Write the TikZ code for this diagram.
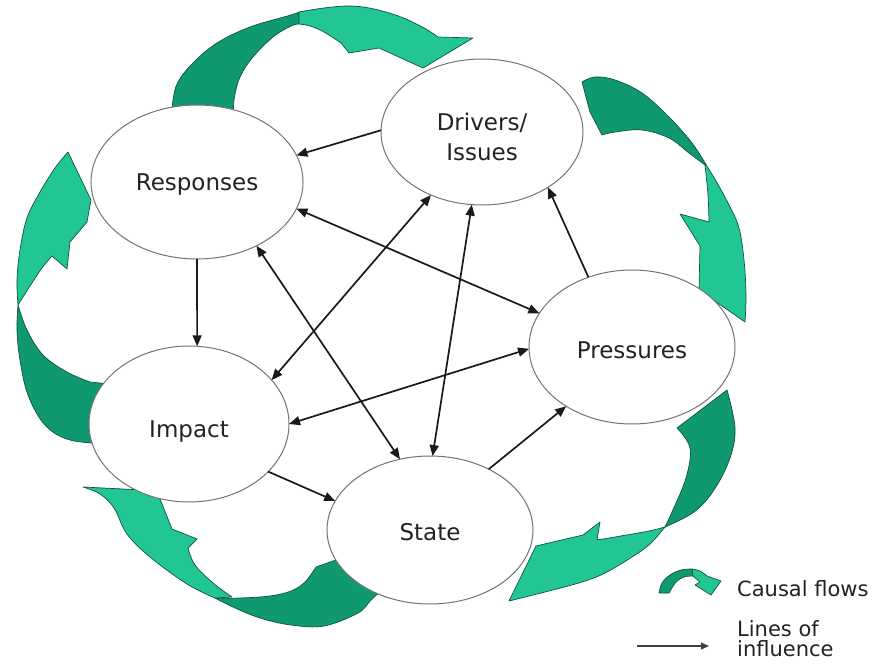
\documentclass[tikz,border=0pt]{standalone}
\usepackage{fontspec}
\setmainfont{DejaVu Sans}
\usetikzlibrary{shapes.geometric,arrows.meta}
\definecolor{flowdark}{RGB}{16,152,112}
\definecolor{flowlight}{RGB}{34,198,148}
\definecolor{flowedge}{RGB}{14,84,62}
\definecolor{labeltext}{RGB}{34,34,34}

\begin{document}
\begin{tikzpicture}[x=1pt,y=-1pt,
  flowback/.style={fill=flowdark,draw=flowedge,line width=0.7pt,line join=round},
  flowfront/.style={fill=flowlight,draw=flowedge,line width=0.7pt,line join=round},
  stage/.style={ellipse,draw=black!55,line width=1pt,fill=white,inner sep=0pt,outer sep=0pt,
     text=labeltext,font=\fontsize{23}{30}\selectfont,align=center},
  oneline/.style={text depth=0pt,text height=#1},
  infl/.style={line width=1.7pt,draw=black!90,>={Triangle[length=11pt,width=9pt]}},
  legtext/.style={text=labeltext,font=\fontsize{21}{20}\selectfont,align=left,inner sep=0pt}
]
\useasboundingbox (0,0) rectangle (873,666);

% ---- causal flows (drawn first, the stages sit on top of them) ----
% Responses -> Drivers
\path[flowback] plot[smooth,tension=0.6] coordinates {(234,118) (234,100) (240,77) (253,57) (273,37) (291,26) (299,24)}
  -- (299,12) -- plot[smooth,tension=0.6] coordinates {(299,12) (291,15) (250,27) (217,43) (193,63) (178,82) (173,100) (172,118)} -- cycle;
\path[flowfront] plot[smooth,tension=0.6] coordinates {(299,12) (324,8) (350,6) (374,9) (401,17) (424,28) (438,37)}
  -- (473,38) -- (423,68) -- (379,48) -- (349,53)
  -- plot[smooth,tension=0.6] coordinates {(341,43) (324,32) (310,26) (299,24)} -- cycle;

% Drivers -> Pressures
\path[flowback] plot[smooth,tension=0.6] coordinates {(602,135) (615,132) (642,130) (669,138) (689,153) (705,165)}
  -- plot[smooth,tension=0.6] coordinates {(705,163) (692,143) (669,117) (642,93) (615,80) (595,77) (582,82)}
  -- (590,112) -- cycle;
\path[flowfront] plot[smooth,tension=0.6] coordinates {(705,163) (716,181) (729,205) (739,228) (744,260) (746,295) (745,322)}
  -- (699,290) -- (700,246) -- (680,214) -- (709,222)
  -- plot[smooth,tension=0.6] coordinates {(709,222) (708,195) (705,165)} -- cycle;

% Pressures -> State
\path[flowback] (677,428) -- plot[smooth,tension=0.6] coordinates {(727,390) (735,428) (730,458) (714,490) (694,512) (665,527)}
  -- plot[smooth,tension=0.6] coordinates {(665,527) (672,512) (686,478) (690,448) (677,428)} -- cycle;
\path[flowfront] plot[smooth,tension=0.6] coordinates {(665,527) (649,531) (615,537) (597,540)}
  -- (600,522) -- (583,535) -- (536,546) -- (509,601)
  -- plot[smooth,tension=0.6] coordinates {(509,601) (545,592) (582,582) (605,573) (632,557) (650,544) (665,527)} -- cycle;

% State -> Impact
\path[flowback] (316,567) -- (350,555) -- (382,590)
  -- plot[smooth,tension=0.6] coordinates {(382,590) (371,600) (358,613) (324,626) (291,625) (260,618) (233,607) (215,598)}
  -- plot[smooth,tension=0.6] coordinates {(215,598) (240,598) (270,596) (291,591) (305,582) (316,567)} -- cycle;
\path[flowfront] plot[smooth,tension=0.6] coordinates {(215,598) (187,584) (150,557) (127,534) (114,508) (100,494) (83,487)}
  -- (143,490) -- (160,499) -- (172,529) -- (197,539)
  -- plot[smooth,tension=0.6] coordinates {(188,548) (195,565) (213,583) (232,597)} -- cycle;

% Impact -> Responses
\path[flowback] plot[smooth,tension=0.6] coordinates {(18,305) (17,330) (20,360) (28,395) (45,425) (70,440) (110,444)}
  -- (110,384) -- plot[smooth,tension=0.6] coordinates {(90,382) (67,372) (43,355) (27,330) (18,305)} -- cycle;
\path[flowfront] plot[smooth,tension=0.6] coordinates {(18,305) (30,286) (42,268) (52,256)}
  -- (67,269) -- (70,242) -- (87,222) -- (91,200) -- (68,152)
  -- plot[smooth,tension=0.6] coordinates {(68,152) (55,168) (40,192) (27,218) (20,250) (17,280) (18,305)} -- cycle;

% ---- stages ----
\node[stage,text height=56.8pt,text depth=0pt,minimum width=202pt,minimum height=146pt] (D) at (482,132) {Drivers/\\Issues};
\node[stage,oneline=16.8pt,minimum width=212pt,minimum height=154pt] (R) at (197,182) {Responses};
\node[stage,oneline=22.8pt,minimum width=206pt,minimum height=154pt] (P) at (632,347) {Pressures};
\node[stage,oneline=26.8pt,minimum width=200pt,minimum height=156pt] (I) at (189,424) {Impact};
\node[stage,oneline=20.8pt,minimum width=206pt,minimum height=148pt] (S) at (430,530) {State};

% ---- lines of influence ----
\draw[infl,->]  (D.179) -- (R.15);
\draw[infl,->]  (R.270) -- (I.84);
\draw[infl,<->] (R.-15) -- (P.160);
\draw[infl,<->] (R.-47) -- (S.113);
\draw[infl,<->] (I.28) -- (D.231);
\draw[infl,<->] (S.88) -- (D.262);
\draw[infl,->]  (P.122) -- (D.-40);
\draw[infl,<->] (I.0) -- (P.181);
\draw[infl,->]  (I.-31) -- (S.163);
\draw[infl,->]  (S.46) -- (P.222);

% ---- legend ----
\path[flowback] plot[smooth,tension=0.6] coordinates {(659,593) (662,583) (670,575) (681,570) (692,569)}
  -- (693,576) -- plot[smooth,tension=0.6] coordinates {(693,576) (684,577) (676,582) (669,593)} -- cycle;
\path[flowfront] plot[smooth,tension=0.6] coordinates {(692,569) (700,571) (707,576)}
  -- (721,581) -- (711,595) -- (695,585) -- (700,582) -- (693,576) -- cycle;
\node[legtext,anchor=west] (cf) at (737,589) {Causal flows};

\coordinate (legA) at (637,646);
\coordinate (legB) at (709,646);
\draw[line width=1.2pt,black!75,-{Triangle[length=8pt,width=7pt]}] (legA) -- (legB);
\node[legtext,anchor=west] (li) at (737,639) {Lines of\\influence};
\end{tikzpicture}
\end{document}
